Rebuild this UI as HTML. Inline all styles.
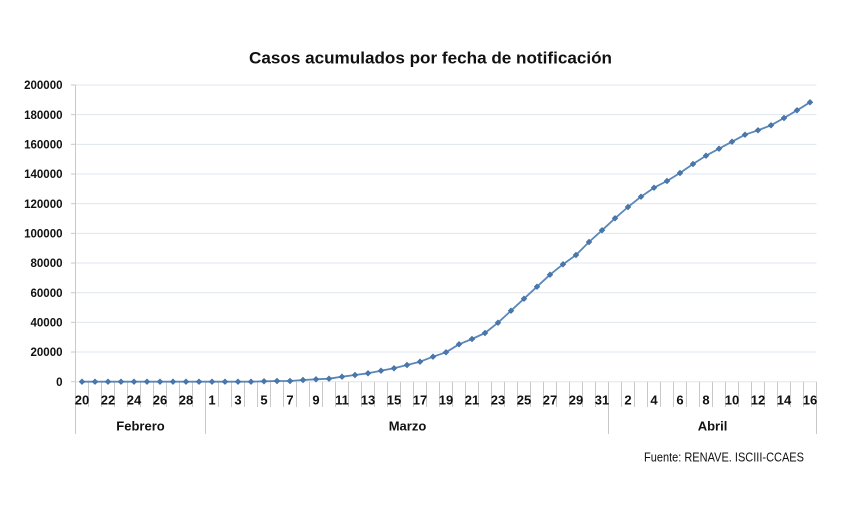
<!DOCTYPE html>
<html><head><meta charset="utf-8"><style>
html,body{margin:0;padding:0;background:#fff;}
svg{display:block;}
text{font-family:"Liberation Sans",Arial,sans-serif;fill:#111;}
</style></head><body>
<svg width="853" height="523" viewBox="0 0 853 523" xmlns="http://www.w3.org/2000/svg">
<rect width="853" height="523" fill="#fff"/>
<text x="249" y="63.5" font-size="16.5" font-weight="bold" textLength="363" lengthAdjust="spacingAndGlyphs">Casos acumulados por fecha de notificación</text>
<g id="grid" stroke="#dfe6ee" stroke-width="1"></g>
<g id="ylab" font-size="11.5" font-weight="bold" text-anchor="end"></g>
<g id="ticks" stroke="#c9c9c9" stroke-width="1"></g>
<g id="xlab" font-size="13" font-weight="bold" text-anchor="middle"></g>
<text x="140.5" y="430.5" font-size="13" font-weight="bold" text-anchor="middle">Febrero</text>
<text x="407.5" y="430.5" font-size="13" font-weight="bold" text-anchor="middle">Marzo</text>
<text x="712.5" y="430.5" font-size="13" font-weight="bold" text-anchor="middle">Abril</text>
<text x="644" y="461.5" font-size="12.5" textLength="160" lengthAdjust="spacingAndGlyphs">Fuente: RENAVE. ISCIII-CCAES</text>
<polyline id="line" fill="none" stroke="#5a87ba" stroke-width="1.8" stroke-linejoin="round"/>
<g id="marks" fill="#4a78ad" stroke="#3f6c9f" stroke-width="0.6"></g>
</svg>
<script>
var ns="http://www.w3.org/2000/svg";
function el(tag,attrs,parent,txt){var e=document.createElementNS(ns,tag);for(var k in attrs)e.setAttribute(k,attrs[k]);if(txt!==undefined)e.textContent=txt;document.getElementById(parent).appendChild(e);return e;}
var y0=381.7, step=29.67, L=75.5, R=816.5;
for(var k=0;k<=10;k++){
  var y=y0-k*step;
  el('line',{x1:L,x2:R,y1:y,y2:y},'grid');
  el('line',{x1:71,x2:L,y1:y,y2:y},'ticks');
  el('text',{x:62.5,y:y+4.2},'ylab',String(k*20000));
}
el('line',{x1:L,x2:L,y1:85,y2:434},'ticks');
for(var b=1;b<=57;b++){
  var x=L+b*13;
  var long=(b==10||b==41||b==57);
  el('line',{x1:x,x2:x,y1:y0,y2:long?434:407},'ticks');
}
var labels=[];
for(var i=0;i<57;i++){
  var d;
  if(i<10)d=20+i; else if(i<41)d=i-9; else d=i-40;
  if(i%2==0) el('text',{x:82+13*i,y:404.5},'xlab',String(d));
}
var ys=[381.7,381.7,381.7,381.7,381.7,381.7,381.7,381.7,381.7,381.7,381.7,381.7,381.7,381.7,381.3,381,381,380,379.3,378.7,376.7,375,373.3,370.7,368.3,365.0,361.7,356.7,352.3,344.3,339.0,333.0,322.7,310.7,298.7,286.7,274.7,264.3,255.0,242.0,230.3,218.3,207.0,196.7,187.7,181.0,173.0,164.0,155.7,148.7,141.7,134.7,130.3,125.3,118.0,110.3,102.3];
var pts=[];
for(var i=0;i<ys.length;i++){
  var x=82+13*i,y=ys[i];
  pts.push(x+','+y);
  el('polygon',{points:(x)+','+(y-2.8)+' '+(x+2.8)+','+y+' '+x+','+(y+2.8)+' '+(x-2.8)+','+y},'marks');
}
document.getElementById('line').setAttribute('points',pts.join(' '));
</script>
</body></html>
